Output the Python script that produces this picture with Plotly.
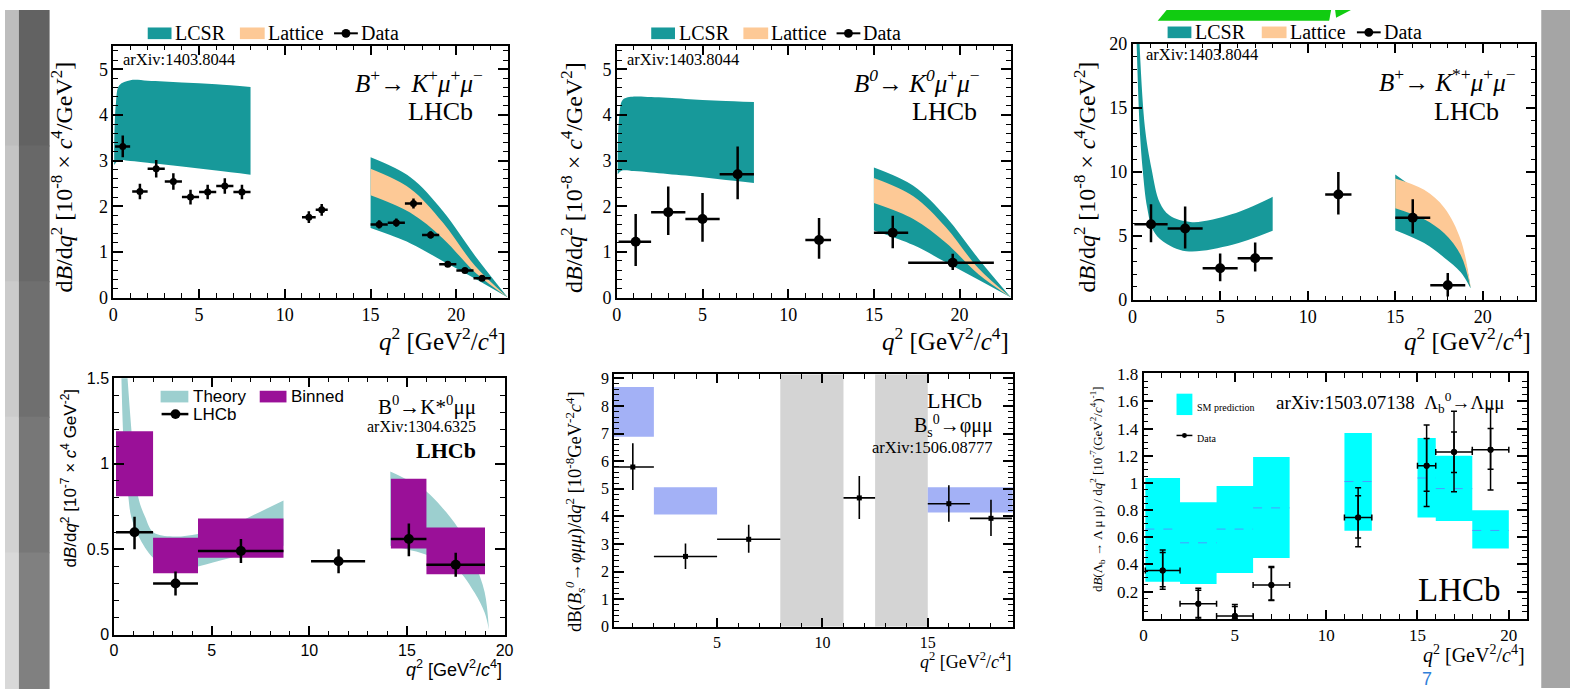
import plotly.graph_objects as go

W, H = 1579, 698
def px(x): return x / W
def py(y): return 1 - y / H

SERIF = "Liberation Serif, Times New Roman, serif"
SANS = "Liberation Sans, Arial, sans-serif"
TEAL = "#17999a"; PEACH = "#fdc996"; THEORY = "#9ccfcf"; PURPLE = "#9a1098"
BLUEBOX = "#a3b1f6"; GRAYBAND = "#d4d4d4"; CYAN = "#00ffff"; MIDLINE = "#4a9cff"

# ================= DATA =================
# Panel 1: B+ -> K+ mu mu
p1_lcsr_lowq_qup = [0.05, 0.15, 0.35, 1.0, 2.0, 4.0, 6.0, 8.0]
p1_lcsr_lowq_up  = [3.3, 4.25, 4.65, 4.76, 4.75, 4.71, 4.67, 4.61]
p1_lcsr_lowq_qlo = [0.05, 0.3, 1.0, 2.0, 4.0, 6.0, 8.0]
p1_lcsr_lowq_lo  = [2.9, 3.0, 2.99, 2.95, 2.87, 2.78, 2.69]
p1_hq = [15, 17.3, 19.2, 21.1, 23]
p1_lcsr_hi_up = [3.07, 2.64, 1.90, 0.91, 0.0]
p1_lcsr_hi_lo = [1.52, 1.19, 0.80, 0.41, 0.0]
p1_lat_up = [2.82, 2.39, 1.65, 0.69, 0.0]
p1_lat_lo = [2.24, 1.86, 1.30, 0.55, 0.0]
p1_q   = [0.55, 1.55, 2.5, 3.5, 4.5, 5.5, 6.5, 7.5, 11.4, 12.15, 15.5, 16.5, 17.5, 18.5, 19.5, 20.5, 21.5]
p1_qlo = [0.1, 1.1, 2, 3, 4, 5, 6, 7, 11, 11.8, 15, 16, 17, 18, 19, 20, 21]
p1_qhi = [0.98, 2, 3, 4, 5, 6, 7, 8, 11.8, 12.5, 16, 17, 18, 19, 20, 21, 22]
p1_y   = [3.31, 2.32, 2.82, 2.54, 2.20, 2.31, 2.44, 2.31, 1.76, 1.92, 1.60, 1.64, 2.06, 1.37, 0.73, 0.59, 0.42]
p1_err = [0.24, 0.17, 0.19, 0.18, 0.16, 0.16, 0.17, 0.16, 0.13, 0.13, 0.09, 0.09, 0.11, 0.08, 0.06, 0.05, 0.04]

# Panel 2: B0 -> K0 mu mu
p2_lcsr_lowq_qup = [0.05, 0.15, 0.35, 1.0, 2.0, 4.0, 6.0, 8.0]
p2_lcsr_lowq_up  = [3.1, 4.0, 4.33, 4.4, 4.39, 4.35, 4.31, 4.28]
p2_lcsr_lowq_qlo = [0.05, 0.3, 1.0, 2.0, 4.0, 6.0, 8.0]
p2_lcsr_lowq_lo  = [2.7, 2.78, 2.77, 2.74, 2.67, 2.59, 2.51]
p2_hq = [15, 17.3, 19.2, 21.1, 23]
p2_lcsr_hi_up = [2.85, 2.45, 1.77, 0.85, 0.0]
p2_lcsr_hi_lo = [1.47, 1.15, 0.77, 0.39, 0.0]
p2_lat_up = [2.62, 2.22, 1.54, 0.64, 0.0]
p2_lat_lo = [2.07, 1.72, 1.20, 0.51, 0.0]
p2_q   = [1.1, 3.0, 5.0, 7.05, 11.8, 16.1, 19.6]
p2_qlo = [0.1, 2, 4, 6, 11, 15, 17]
p2_qhi = [2, 4, 6, 8, 12.5, 17, 22]
p2_y   = [1.22, 1.87, 1.72, 2.70, 1.26, 1.42, 0.76]
p2_eup = [0.61, 0.56, 0.57, 0.61, 0.48, 0.37, 0.20]
p2_edn = [0.53, 0.50, 0.50, 0.55, 0.41, 0.34, 0.16]

# Panel 3: B+ -> K*+ mu mu
p3_lcsr_lowq_qup = [0.38, 0.7, 1.08, 1.55, 2.1, 3.4, 5.7, 8.0]
p3_lcsr_lowq_up  = [20.5, 13.5, 10.25, 7.6, 6.6, 6.07, 6.7, 8.05]
p3_lcsr_lowq_qlo = [0.22, 0.4, 0.57, 0.83, 1.17, 1.74, 3.06, 5.7, 8.0]
p3_lcsr_lowq_lo  = [20.5, 13.5, 10.25, 7.21, 5.44, 4.56, 3.80, 4.3, 5.39]
p3_hq = [15, 16.65, 17.8, 18.74, 19.3]
p3_lcsr_hi_up = [9.79, 8.1, 6.6, 4.3, 1.0]
p3_lcsr_hi_lo = [5.44, 4.43, 3.29, 2.15, 0.9]
p3_lat_up = [9.49, 8.6, 7.2, 4.7, 1.05]
p3_lat_lo = [7.16, 6.3, 5.2, 3.5, 0.95]
p3_q   = [1.05, 3.0, 5.0, 7.0, 11.75, 16.0, 18.0]
p3_qlo = [0.1, 2, 4, 6, 11, 15, 17]
p3_qhi = [2, 4, 6, 8, 12.5, 17, 19]
p3_y   = [5.9, 5.57, 2.46, 3.24, 8.23, 6.41, 1.14]
p3_eup = [1.57, 1.72, 1.16, 1.24, 1.77, 1.44, 0.96]
p3_edn = [1.40, 1.57, 1.02, 1.04, 1.57, 1.22, 0.89]

# Panel 4: B0 -> K*0 mu mu
p4_th_lowq_qup = [0.66, 1.0, 1.25, 1.59, 2.01, 3.0, 4.3, 6.0, 7.5, 8.68]
p4_th_lowq_up  = [1.55, 1.05, 0.80, 0.69, 0.60, 0.575, 0.59, 0.64, 0.72, 0.785]
p4_th_lowq_qlo = [0.37, 0.5, 0.74, 0.88, 1.25, 2.0, 3.0, 4.3, 6.0, 8.68]
p4_th_lowq_lo  = [1.55, 1.1, 0.80, 0.69, 0.577, 0.45, 0.378, 0.40, 0.45, 0.52]
p4_th_hiq_q  = [14.15, 15.0, 15.96, 16.78, 17.62, 18.47, 18.98, 19.2]
p4_th_hiq_up = [0.955, 0.908, 0.842, 0.747, 0.624, 0.42, 0.25, 0.03]
p4_th_hiq_lo = [0.52, 0.50, 0.47, 0.43, 0.378, 0.246, 0.13, 0.03]
p4_bin_lo  = [0.1, 2, 4.3, 14.18, 16]
p4_bin_hi  = [2, 4.3, 8.68, 16, 19]
p4_bin_ylo = [0.81, 0.36, 0.45, 0.505, 0.354]
p4_bin_yhi = [1.19, 0.567, 0.68, 0.912, 0.628]
p4_q   = [1.05, 3.15, 6.5, 11.5, 15.1, 17.5]
p4_qlo = [0.1, 2, 4.3, 10.09, 14.18, 16]
p4_qhi = [2, 4.3, 8.68, 12.86, 16, 19]
p4_y   = [0.60, 0.30, 0.49, 0.43, 0.56, 0.41]
p4_eup = [0.09, 0.07, 0.07, 0.07, 0.09, 0.07]
p4_edn = [0.10, 0.07, 0.07, 0.07, 0.10, 0.07]

# Panel 5: Bs -> phi mu mu
p5_box_lo  = [0.1, 2, 15]
p5_box_hi  = [2, 5, 19.1]
p5_box_ylo = [6.89, 4.07, 4.14]
p5_box_yhi = [8.69, 5.06, 5.06]
p5_veto_lo = [8, 12.5]
p5_veto_hi = [11, 15]
p5_q   = [1.0, 3.5, 6.5, 11.75, 16.0, 18.0]
p5_qlo = [0.1, 2, 5, 11, 15, 17]
p5_qhi = [2, 5, 8, 12.5, 17, 19]
p5_y   = [5.79, 2.55, 3.17, 4.67, 4.46, 3.93]
p5_eup = [0.86, 0.47, 0.53, 0.79, 0.67, 0.67]
p5_edn = [0.83, 0.46, 0.49, 0.76, 0.65, 0.64]

# Panel 6: Lambda_b -> Lambda mu mu
p6_sm_lo  = [0.1, 2, 4, 6, 11, 15, 16, 18]
p6_sm_hi  = [2, 4, 6, 8, 12.5, 16, 18, 20]
p6_sm_ylo = [0.272, 0.256, 0.337, 0.447, 0.647, 0.745, 0.719, 0.518]
p6_sm_yhi = [1.036, 0.857, 0.977, 1.19, 1.368, 1.33, 1.2, 0.798]
p6_sm_mid = [0.66, 0.559, 0.66, 0.816, 1.01, 1.036, 0.958, 0.65]
p6_q   = [1.05, 3, 5, 7, 11.75, 15.5, 17, 19]
p6_qlo = [0.1, 2, 4, 6, 11, 15, 16, 18]
p6_qhi = [2, 4, 6, 8, 12.5, 16, 18, 20]
p6_y   = [0.356, 0.11, 0.02, 0.248, 0.745, 1.127, 1.227, 1.244]
p6_tot_up = [0.15, 0.114, 0.085, 0.137, 0.22, 0.30, 0.30, 0.30]
p6_tot_dn = [0.139, 0.11, 0.02, 0.114, 0.215, 0.30, 0.293, 0.296]
p6_stat_up = [0.131, 0.1, 0.07, 0.13, 0.16, 0.20, 0.148, 0.157]
p6_stat_dn = [0.12, 0.1, 0.02, 0.11, 0.15, 0.188, 0.15, 0.144]

# ================= FIGURE =================
fig = go.Figure()

def A(n):
    return ("x" if n == 1 else f"x{n}", "y" if n == 1 else f"y{n}")

def band(n, q_lo, lo, q_up, up, color):
    xa, ya = A(n)
    fig.add_trace(go.Scatter(x=q_lo, y=lo, mode="lines", line=dict(width=0, shape="spline", color=color),
                             xaxis=xa, yaxis=ya, hoverinfo="skip", showlegend=False))
    fig.add_trace(go.Scatter(x=q_up, y=up, mode="lines", line=dict(width=0, shape="spline", color=color),
                             fill="tonexty", fillcolor=color, xaxis=xa, yaxis=ya, hoverinfo="skip", showlegend=False))

def boxes(n, x0s, x1s, y0s, y1s, color):
    xa, ya = A(n)
    xs, ys = [], []
    for a, b, c, d in zip(x0s, x1s, y0s, y1s):
        xs += [a, b, b, a, a, None]
        ys += [c, c, d, d, c, None]
    fig.add_trace(go.Scatter(x=xs, y=ys, mode="lines", fill="toself", fillcolor=color,
                             line=dict(width=0, color=color), xaxis=xa, yaxis=ya,
                             hoverinfo="skip", showlegend=False))

def points(n, q, y, qlo, qhi, eup, edn, size, symbol="circle", thick=2.5, capw=0, xerr=True):
    xa, ya = A(n)
    ex = dict(type="data", symmetric=False, array=[h - x for h, x in zip(qhi, q)],
              arrayminus=[x - l for x, l in zip(q, qlo)], color="black", thickness=thick, width=capw)
    fig.add_trace(go.Scatter(
        x=q, y=y, mode="markers", marker=dict(color="black", size=size, symbol=symbol),
        error_x=ex if xerr else None,
        error_y=dict(type="data", symmetric=False, array=eup, arrayminus=edn, color="black",
                     thickness=thick, width=capw),
        xaxis=xa, yaxis=ya, hoverinfo="skip", showlegend=False, cliponaxis=False))

# Panel 1
band(1, p1_lcsr_lowq_qlo, p1_lcsr_lowq_lo, p1_lcsr_lowq_qup, p1_lcsr_lowq_up, TEAL)
band(1, p1_hq, p1_lcsr_hi_lo, p1_hq, p1_lcsr_hi_up, TEAL)
band(1, p1_hq, p1_lat_lo, p1_hq, p1_lat_up, PEACH)
points(1, p1_q, p1_y, p1_qlo, p1_qhi, p1_err, p1_err, 7)
# Panel 2
band(2, p2_lcsr_lowq_qlo, p2_lcsr_lowq_lo, p2_lcsr_lowq_qup, p2_lcsr_lowq_up, TEAL)
band(2, p2_hq, p2_lcsr_hi_lo, p2_hq, p2_lcsr_hi_up, TEAL)
band(2, p2_hq, p2_lat_lo, p2_hq, p2_lat_up, PEACH)
points(2, p2_q, p2_y, p2_qlo, p2_qhi, p2_eup, p2_edn, 10)
# Panel 3
band(3, p3_lcsr_lowq_qlo, p3_lcsr_lowq_lo, p3_lcsr_lowq_qup, p3_lcsr_lowq_up, TEAL)
band(3, p3_hq, p3_lcsr_hi_lo, p3_hq, p3_lcsr_hi_up, TEAL)
band(3, p3_hq, p3_lat_lo, p3_hq, p3_lat_up, PEACH)
points(3, p3_q, p3_y, p3_qlo, p3_qhi, p3_eup, p3_edn, 10)
# Panel 4
band(4, p4_th_lowq_qlo, p4_th_lowq_lo, p4_th_lowq_qup, p4_th_lowq_up, THEORY)
band(4, p4_th_hiq_q, p4_th_hiq_lo, p4_th_hiq_q, p4_th_hiq_up, THEORY)
boxes(4, p4_bin_lo, p4_bin_hi, p4_bin_ylo, p4_bin_yhi, PURPLE)
points(4, p4_q, p4_y, p4_qlo, p4_qhi, p4_eup, p4_edn, 10)
# Panel 5
boxes(5, p5_veto_lo, p5_veto_hi, [0, 0], [9.15, 9.15], GRAYBAND)
boxes(5, p5_box_lo, p5_box_hi, p5_box_ylo, p5_box_yhi, BLUEBOX)
points(5, p5_q, p5_y, p5_qlo, p5_qhi, p5_eup, p5_edn, 5, symbol="square", thick=1.6)
# Panel 6
boxes(6, p6_sm_lo, p6_sm_hi, p6_sm_ylo, p6_sm_yhi, CYAN)
mx, my = [], []
for a, b, m in zip(p6_sm_lo, p6_sm_hi, p6_sm_mid):
    mx += [a, b, None]; my += [m, m, None]
fig.add_trace(go.Scatter(x=mx, y=my, mode="lines", line=dict(color=MIDLINE, width=1, dash="dash"),
                         xaxis="x6", yaxis="y6", hoverinfo="skip", showlegend=False))
points(6, p6_q, p6_y, p6_qlo, p6_qhi, p6_tot_up, p6_tot_dn, 6, thick=1.5, capw=3)
points(6, p6_q, p6_y, p6_qlo, p6_qhi, p6_stat_up, p6_stat_dn, 6, thick=1.5, capw=3, xerr=False)

# ---------------- axes ----------------
def axes(n, xpx, ypx, xr, yr, xd, xmd, yd, ymd, font, fsize, ytickvals=None, xticklen=9, yticklen=10):
    common = dict(showline=True, linecolor="black", linewidth=1.5, mirror="ticks", ticks="inside",
                  tickwidth=1.5, tickcolor="black", showgrid=False, zeroline=False, fixedrange=True,
                  tickfont=dict(family=font, size=fsize, color="black"), tick0=0)
    xname = "xaxis" if n == 1 else f"xaxis{n}"
    yname = "yaxis" if n == 1 else f"yaxis{n}"
    xa, ya = A(n)
    xax = dict(common, domain=[px(xpx[0]), px(xpx[1])], range=xr, anchor=ya, dtick=xd, ticklen=xticklen,
               minor=dict(ticks="inside", ticklen=xticklen * 0.5, dtick=xmd, tick0=0, tickcolor="black", tickwidth=1.2))
    yax = dict(common, domain=[py(ypx[1]), py(ypx[0])], range=yr, anchor=xa, dtick=yd, ticklen=yticklen,
               minor=dict(ticks="inside", ticklen=yticklen * 0.5, dtick=ymd, tick0=0, tickcolor="black", tickwidth=1.2))
    if ytickvals is not None:
        yax["tickmode"] = "array"; yax["tickvals"] = ytickvals
    fig.update_layout({xname: xax, yname: yax})

axes(1, (109.3, 507.3), (37, 296), [0, 23], [0, 5.51], 5, 1, 1, 0.2, SERIF, 18)
axes(2, (617.3, 1015), (37, 296), [0, 23], [0, 5.51], 5, 1, 1, 0.2, SERIF, 18)
axes(3, (1137.7, 1544), (35, 298.3), [0, 23], [0, 20], 5, 1, 5, 1, SERIF, 18)
axes(4, (110, 504), (379, 643.3), [0, 20], [0, 1.5], 5, 1, 0.5, 0.1, SANS, 16)
axes(5, (614.3, 1016.7), (375, 635), [0.1, 19.03], [0, 9.15], 5, 1, 1, 0.2, SERIF, 16)
axes(6, (1148.7, 1535.7), (374, 626.7), [0, 21], [0, 1.807], 5, 1, 0.2, 0.05, SERIF, 17,
     ytickvals=[0.2, 0.4, 0.6, 0.8, 1.0, 1.2, 1.4, 1.6, 1.8])

# ---------------- annotations ----------------
ann = []
def T(text, x, y, size, font=SERIF, xa="left", ya="middle", angle=0, color="black"):
    ann.append(dict(text=text, x=px(x), y=py(y), xref="paper", yref="paper", xanchor=xa, yanchor=ya,
                    showarrow=False, textangle=angle, font=dict(family=font, size=size, color=color)))

ytitle_top = "d<i>B</i>/d<i>q</i><sup>2</sup> [10<sup>-8</sup> × <i>c</i><sup>4</sup>/GeV<sup>2</sup>]"
xtitle = "<i>q</i><sup>2</sup> [GeV<sup>2</sup>/<i>c</i><sup>4</sup>]"
for cx in (58, 572, 1090):
    T(ytitle_top, cx, 172, 24, xa="center", angle=-90)
for rx in (507, 1015, 1542):
    T(xtitle, rx, 339, 25, xa="right")

T("arXiv:1403.8044", 117, 51, 16.5)
T("arXiv:1403.8044", 626, 51, 16.5)
T("arXiv:1403.8044", 1149, 46, 16.5)
T("<i>B</i><sup>+</sup>→ <i>K</i><sup>+</sup><i>μ</i><sup>+</sup><i>μ</i><sup>−</sup>", 484, 73, 25, xa="right")
T("<i>B</i><sup><i>0</i></sup>→ <i>K</i><sup><i>0</i></sup><i>μ</i><sup>+</sup><i>μ</i><sup>−</sup>", 986, 73, 25, xa="right")
T("<i>B</i><sup>+</sup>→ <i>K</i><sup>*+</sup><i>μ</i><sup>+</sup><i>μ</i><sup>−</sup>", 1527, 72, 25, xa="right")
T("LHCb", 474, 105, 26, xa="right")
T("LHCb", 983, 105, 26, xa="right")
T("LHCb", 1509, 104, 26, xa="right")

# top legends
for (rx0, lx0, dx0, yc) in ((144, 237, 332, 24), (652, 745, 839, 24), (1173, 1268, 1364, 23)):
    T("LCSR", rx0 + 26, yc, 20)
    T("Lattice", lx0 + 26, yc, 20)
    T("Data", dx0 + 25, yc, 20)

# Panel 4
T("d<i>B</i>/d<i>q</i><sup>2</sup> [10<sup>-7</sup> × <i>c</i><sup>4</sup> GeV<sup>-2</sup>]", 65, 482, 17, font=SANS, xa="center", angle=-90)
T("<i>q</i><sup>2</sup> [GeV<sup>2</sup>/<i>c</i><sup>4</sup>]", 503, 678, 18, font=SANS, xa="right")
T("Theory", 188, 398, 17, font=SANS)
T("Binned", 287, 398, 17, font=SANS)
T("LHCb", 188, 416, 17, font=SANS)
T("B<sup>0</sup>→K*<sup>0</sup>μμ", 477, 407, 21, xa="right")
T("arXiv:1304.6325", 477, 429, 16, xa="right")
T("<b>LHCb</b>", 477, 454, 22, xa="right")

# Panel 5
T("dB(<i>B</i><sub><i>s</i></sub><sup><i>0</i></sup>→<i>φμμ</i>)/d<i>q</i><sup>2</sup> [10<sup>-8</sup>GeV<sup>-2</sup><i>c</i><sup>4</sup>]",
  575, 516, 18.5, xa="center", angle=-90)
T("<i>q</i><sup>2</sup> [GeV<sup>2</sup>/<i>c</i><sup>4</sup>]", 1017, 670, 18, xa="right")
T("LHCb", 988, 402, 22, xa="right")
T("B<sub>s</sub><sup>0</sup>→φμμ", 999, 428, 20, xa="right")
T("arXiv:1506.08777", 999, 450, 16.5, xa="right")

# Panel 6
T("d<i>B</i>(Λ<sub>b</sub> → Λ μ μ) / d<i>q</i><sup>2</sup> [10<sup>-7</sup>(GeV<sup>2</sup>/<i>c</i><sup>4</sup>)<sup>-1</sup>]",
  1102, 493, 13, xa="center", angle=-90)
T("<i>q</i><sup>2</sup> [GeV<sup>2</sup>/<i>c</i><sup>4</sup>]", 1536, 664, 20, xa="right")
T("arXiv:1503.07138  Λ<sub>b</sub><sup>0</sup>→Λμμ", 1515, 404, 19, xa="right")
T("LHCb", 1468, 597, 33, xa="center")
T("SM prediction", 1201, 409, 10)
T("Data", 1201, 441, 10)

T("7", 1435, 689, 18, font=SANS, xa="center", color="#2f7fd9")

# ---------------- shapes ----------------
shapes = []
def R(x0, y0, x1, y1, color, layer="above"):
    shapes.append(dict(type="rect", xref="paper", yref="paper", x0=px(x0), x1=px(x1), y0=py(y1), y1=py(y0),
                       fillcolor=color, line=dict(width=0), layer=layer))
def L(x0, y0, x1, y1, color="black", w=2):
    shapes.append(dict(type="line", xref="paper", yref="paper", x0=px(x0), x1=px(x1), y0=py(y0), y1=py(y1),
                       line=dict(color=color, width=w)))
def C(x, y, r, color="black"):
    shapes.append(dict(type="circle", xref="paper", yref="paper", x0=px(x - r), x1=px(x + r), y0=py(y + r), y1=py(y - r),
                       fillcolor=color, line=dict(width=0)))

# background strips (left gradient, right gray)
left_light = ["#bdbdbd", "#c4c4c4", "#cbcbcb", "#d2d2d2", "#d8d8d8"]
left_dark = ["#626262", "#686868", "#6f6f6f", "#777777", "#808080"]
for i in range(5):
    R(0, i * H / 5, 14, (i + 1) * H / 5 + 1, left_light[i], layer="below")
    R(14, i * H / 5, 45, (i + 1) * H / 5 + 1, left_dark[i], layer="below")
R(1550, 0, 1579, H, "#a5a5a5", layer="below")

# green decoration
shapes.append(dict(type="path", xref="paper", yref="paper",
                   path=f"M {px(1163)},{py(11)} L {px(1172)},{py(0)} L {px(1338)},{py(0)} L {px(1336)},{py(11)} Z",
                   fillcolor="#11cc11", line=dict(width=0)))
shapes.append(dict(type="path", xref="paper", yref="paper",
                   path=f"M {px(1342)},{py(0)} L {px(1358)},{py(0)} L {px(1343)},{py(8)} Z",
                   fillcolor="#11cc11", line=dict(width=0)))

# top legends symbols
for (rx0, lx0, dx0, yc) in ((144, 237, 332, 24), (652, 745, 839, 24), (1173, 1268, 1364, 23)):
    R(rx0, yc - 6, rx0 + 24, yc + 6, TEAL)
    R(lx0, yc - 6, lx0 + 25, yc + 6, PEACH)
    L(dx0, yc, dx0 + 24, yc, w=2)
    C(dx0 + 12, yc, 4.5)

# panel 4 legend
R(157, 392, 185, 404, THEORY)
R(257, 392, 284, 404, PURPLE)
L(158, 416, 185, 416, w=2.5)
C(172, 416, 5)

# panel 6 legend
R(1182, 395, 1198, 417, CYAN)
L(1182, 438, 1198, 438, w=1.5)
C(1190, 438, 2.5)

fig.update_layout(
    width=W, height=H, margin=dict(l=0, r=0, t=0, b=0), autosize=False,
    paper_bgcolor="white", plot_bgcolor="rgba(0,0,0,0)", showlegend=False,
    annotations=ann, shapes=shapes,
)

fig.write_html("out.html", config={"displayModeBar": False})
